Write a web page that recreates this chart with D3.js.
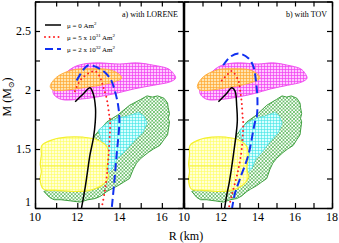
<!DOCTYPE html>
<html>
<head>
<meta charset="utf-8">
<script src="https://cdn.jsdelivr.net/npm/d3@7"></script>
<style>
  body { margin: 0; background: #fff; }
  svg { display: block; font-family: "Liberation Serif", "DejaVu Serif", serif; }
</style>
</head>
<body>
<svg id="chart" width="339" height="243"></svg>
<script>
// tick values
const rTicksA = [10, 12, 14, 16];
const rTicksB = [10, 12, 14, 16, 18];
const mTicks = [1, 1.5, 2, 2.5];

// observational regions (R km, M Msun)
const magentaRegion = [[10.85, 2.0], [11.2, 2.1], [11.8, 2.19], [12.3, 2.22], [13.0, 2.23], [14.0, 2.22], [14.8, 2.23],
  [15.6, 2.21], [16.3, 2.18], [16.55, 2.14], [16.65, 2.1], [16.4, 2.07], [15.6, 2.04], [14.7, 2.01], [13.8, 1.97],
  [12.9, 1.94], [12.0, 1.92], [11.25, 1.92], [10.9, 1.96]];
const orangeRegion = [[10.72, 2.03], [11.03, 2.11], [11.8, 2.17], [12.75, 2.18], [13.55, 2.17], [14.0, 2.13], [14.1, 2.1],
  [13.75, 2.07], [13.07, 2.04], [12.3, 2.02], [11.5, 2.0], [10.85, 2.0]];
const yellowRegion = [[10.32, 1.53], [10.86, 1.58], [11.5, 1.6], [12.27, 1.6], [12.9, 1.58], [13.4, 1.52], [13.47, 1.45],
  [13.4, 1.33], [13.47, 1.26], [13.15, 1.19], [12.6, 1.15], [11.8, 1.14], [11.0, 1.15], [10.4, 1.16], [10.24, 1.24],
  [10.3, 1.31], [10.25, 1.37], [10.3, 1.45]];
const yellowMedian = [[10.3, 1.356], [13.42, 1.356]];
const greenRegion = [[15.0, 1.92], [15.3, 1.95], [15.55, 1.94], [15.8, 1.95], [16.1, 1.93], [16.27, 1.89], [16.3, 1.85],
  [16.36, 1.8], [16.3, 1.76], [16.36, 1.73], [16.27, 1.62], [16.1, 1.58], [15.9, 1.53], [15.6, 1.5], [15.35, 1.47],
  [15.0, 1.42], [14.8, 1.38], [14.65, 1.33], [14.47, 1.25], [14.2, 1.22], [13.93, 1.19], [13.6, 1.16], [13.4, 1.14],
  [13.1, 1.1], [12.85, 1.08], [12.5, 1.07], [12.12, 1.05], [11.7, 1.06], [11.23, 1.07], [10.9, 1.07], [10.69, 1.09],
  [10.42, 1.14], [10.69, 1.16], [11.2, 1.2], [12.0, 1.35], [12.5, 1.5], [12.85, 1.62], [13.4, 1.73], [13.93, 1.79],
  [14.47, 1.87]];
const cyanRegion = [[13.0, 1.66], [13.4, 1.72], [13.9, 1.76], [14.4, 1.78], [14.9, 1.81], [15.15, 1.78], [15.3, 1.72],
  [15.1, 1.64], [14.7, 1.57], [14.3, 1.49], [13.9, 1.42], [13.65, 1.33], [13.45, 1.3], [13.3, 1.4], [13.2, 1.52],
  [13.1, 1.6]];

// mass-radius curves, panel a (LORENE)
const lorene0 = [[11.9, 1.9], [12.3, 1.97], [12.6, 2.02], [12.75, 1.97], [12.86, 1.85], [12.85, 1.73], [12.76, 1.59],
  [12.6, 1.45], [12.5, 1.33], [12.37, 1.17], [12.2, 1.0]];
const lorene5e31 = [[11.89, 1.99], [12.13, 2.08], [12.52, 2.14], [12.84, 2.16], [13.07, 2.11], [13.22, 2.03],
  [13.4, 1.92], [13.5, 1.8], [13.55, 1.73], [13.5, 1.5], [13.4, 1.28], [13.3, 1.14], [13.15, 1.0]];
const lorene2e32 = [[11.97, 2.08], [12.28, 2.17], [12.52, 2.21], [13.07, 2.18], [13.55, 2.1], [13.78, 1.99],
  [13.94, 1.86], [13.99, 1.73], [13.86, 1.45], [13.75, 1.22], [13.63, 1.0]];

// mass-radius curves, panel b (TOV)
const tov0 = [[11.86, 1.9], [12.3, 1.97], [12.58, 2.02], [12.76, 1.99], [12.85, 1.86], [12.88, 1.73], [12.67, 1.45],
  [12.45, 1.22], [12.3, 1.1], [12.2, 1.0]];
const tov5e31 = [[12.04, 2.08], [12.4, 2.14], [12.58, 2.16], [12.94, 2.08], [13.03, 2.0], [13.12, 1.89], [13.17, 1.77],
  [13.2, 1.73], [13.12, 1.5], [12.9, 1.3], [12.6, 1.12], [12.42, 1.0]];
const tov2e32 = [[12.12, 2.21], [12.49, 2.28], [12.94, 2.31], [13.48, 2.27], [13.75, 2.2], [13.9, 2.06], [13.97, 1.92],
  [13.93, 1.77], [13.84, 1.73], [13.48, 1.45], [13.03, 1.25], [12.75, 1.12], [12.6, 1.0]];

const legendLabels = [["\u03bc = 0 Am", "", "2"], ["\u03bc = 5 x 10", "31", " Am", "2"], ["\u03bc = 2 x 10", "32", " Am", "2"]];

const svg = d3.select("#chart");
const defs = svg.append("defs");

// hatch patterns
function meshPattern(id, bg, fg, size, w, diag) {
  const p = defs.append("pattern").attr("id", id).attr("patternUnits", "userSpaceOnUse")
    .attr("width", size).attr("height", size);
  p.append("rect").attr("width", size).attr("height", size).attr("fill", bg);
  if (diag) {
    p.append("path").attr("d", `M0,0L${size},${size}M${size},0L0,${size}`)
      .attr("stroke", fg).attr("stroke-width", w);
  } else {
    p.append("path").attr("d", `M0,0.5H${size}M0.5,0V${size}`)
      .attr("stroke", fg).attr("stroke-width", w);
  }
}
meshPattern("pMag", "#ffc8ff", "#f040f0", 3, 0.7, false);
meshPattern("pOra", "#ffe4b0", "#ffa830", 3, 0.7, false);
meshPattern("pYel", "#ffffd8", "#ffff60", 3, 0.6, false);
meshPattern("pGrn", "#ffffff", "#48b048", 3.5, 0.7, true);
meshPattern("pCyn", "#d8ffff", "#40e4e4", 3, 0.6, false);

const y = d3.scaleLinear().domain([1, 2.75]).range([208, 1.5]);
const panels = [
  { x: d3.scaleLinear().domain([10, 17]).range([35, 183]), ticks: rTicksA, curves: [lorene0, lorene5e31, lorene2e32],
    label: "a) with LORENE", labelX: 178 },
  { x: d3.scaleLinear().domain([10, 18]).range([184, 332]), ticks: rTicksB, curves: [tov0, tov5e31, tov2e32],
    label: "b) with TOV", labelX: 327 }
];

const curveStyles = [
  { stroke: "#000", width: 1.5, dash: null, cap: "butt" },
  { stroke: "#ff2020", width: 2, dash: "0,4.5", cap: "round" },
  { stroke: "#1030f0", width: 2, dash: "8,4", cap: "butt" }
];

panels.forEach((pn, i) => {
  const x = pn.x;
  const g = svg.append("g");
  const clipId = "clip" + i;
  defs.append("clipPath").attr("id", clipId).append("rect")
    .attr("x", x.range()[0]).attr("y", y.range()[1])
    .attr("width", x.range()[1] - x.range()[0]).attr("height", y.range()[0] - y.range()[1]);
  const plot = g.append("g").attr("clip-path", `url(#${clipId})`);

  const area = d3.line().x(d => x(d[0])).y(d => y(d[1])).curve(d3.curveCatmullRomClosed.alpha(0.5));
  const jag = d3.line().x(d => x(d[0])).y(d => y(d[1])).curve(d3.curveLinearClosed);
  const line = d3.line().x(d => x(d[0])).y(d => y(d[1])).curve(d3.curveCatmullRom.alpha(0.5));

  plot.append("path").attr("d", area(magentaRegion)).attr("fill", "url(#pMag)").attr("stroke", "#f050f0").attr("stroke-width", 1);
  plot.append("path").attr("d", area(orangeRegion)).attr("fill", "url(#pOra)").attr("stroke", "#ffb040").attr("stroke-width", 1);
  plot.append("path").attr("d", jag(greenRegion)).attr("fill", "url(#pGrn)").attr("stroke", "#40a040").attr("stroke-width", 1);
  plot.append("path").attr("d", jag(cyanRegion)).attr("fill", "url(#pCyn)").attr("stroke", "#50e0e0").attr("stroke-width", 0.8);
  plot.append("path").attr("d", area(yellowRegion)).attr("fill", "url(#pYel)").attr("stroke", "#f4f030").attr("stroke-width", 1.2);
  plot.append("path").attr("d", d3.line().x(d => x(d[0])).y(d => y(d[1]))(yellowMedian))
    .attr("stroke", "#f4f030").attr("stroke-width", 1.2).attr("fill", "none");

  pn.curves.forEach((c, k) => {
    const s = curveStyles[k];
    plot.append("path").attr("d", line(c)).attr("fill", "none")
      .attr("stroke", s.stroke).attr("stroke-width", s.width)
      .attr("stroke-dasharray", s.dash).attr("stroke-linecap", s.cap);
  });

  // axes with inward ticks on all sides
  const minorR = d3.range(10, x.domain()[1] + 0.01, 1);
  const minorM = d3.range(1, 2.76, 0.25);
  g.append("g").attr("transform", `translate(0,${y.range()[0]})`)
    .call(d3.axisBottom(x).tickValues(minorR).tickSize(-5).tickFormat("").tickSizeOuter(0));
  g.append("g").attr("transform", `translate(0,${y.range()[1]})`)
    .call(d3.axisTop(x).tickValues(minorR).tickSize(-5).tickFormat("").tickSizeOuter(0));
  g.append("g").attr("transform", `translate(${x.range()[0]},0)`)
    .call(d3.axisLeft(y).tickValues(minorM).tickSize(-5).tickFormat("").tickSizeOuter(0));
  g.append("g").attr("transform", `translate(${x.range()[1]},0)`)
    .call(d3.axisRight(y).tickValues(minorM).tickSize(-5).tickFormat("").tickSizeOuter(0));
  g.selectAll(".domain").attr("stroke-width", 1.5);
  g.selectAll(".tick line").attr("stroke-width", 1.2);

  g.selectAll(".rlab").data(pn.ticks).join("text")
    .attr("x", d => x(d)).attr("y", 221).attr("text-anchor", "middle")
    .attr("font-size", 12).text(d => d);

  g.append("text").attr("x", pn.labelX).attr("y", 17).attr("text-anchor", "end")
    .attr("font-size", 8).text(pn.label);
});

// y tick labels (left panel only)
svg.selectAll(".mlab").data(mTicks).join("text")
  .attr("x", 31).attr("y", d => y(d) + (d === 1 ? -2 : 4)).attr("text-anchor", "end")
  .attr("font-size", 12).text(d => d);

// axis titles
svg.append("text").attr("x", 186).attr("y", 240).attr("text-anchor", "middle").attr("font-size", 12).text("R (km)");
const yt = svg.append("text").attr("transform", "translate(11,97) rotate(-90)").attr("text-anchor", "middle").attr("font-size", 12);
yt.append("tspan").text("M (M");
yt.append("tspan").attr("font-size", 8).attr("dy", 3).text("\u2299");
yt.append("tspan").attr("dy", -3).text(")");

// legend
const leg = svg.append("g");
legendLabels.forEach((lab, k) => {
  const s = curveStyles[k];
  const ly = 25 + k * 12;
  leg.append("line").attr("x1", 45).attr("x2", 61).attr("y1", ly).attr("y2", ly)
    .attr("stroke", s.stroke).attr("stroke-width", s.width)
    .attr("stroke-dasharray", s.dash).attr("stroke-linecap", s.cap);
  const t = leg.append("text").attr("x", 67).attr("y", ly + 2.5).attr("font-size", 7);
  if (lab.length === 3) {
    t.append("tspan").text(lab[0]);
    t.append("tspan").attr("font-size", 5).attr("dy", -3).text(lab[2]);
  } else {
    t.append("tspan").text(lab[0]);
    t.append("tspan").attr("font-size", 5).attr("dy", -3).text(lab[1]);
    t.append("tspan").attr("dy", 3).text(lab[2]);
    t.append("tspan").attr("font-size", 5).attr("dy", -3).text(lab[3]);
  }
});
</script>
</body>
</html>
